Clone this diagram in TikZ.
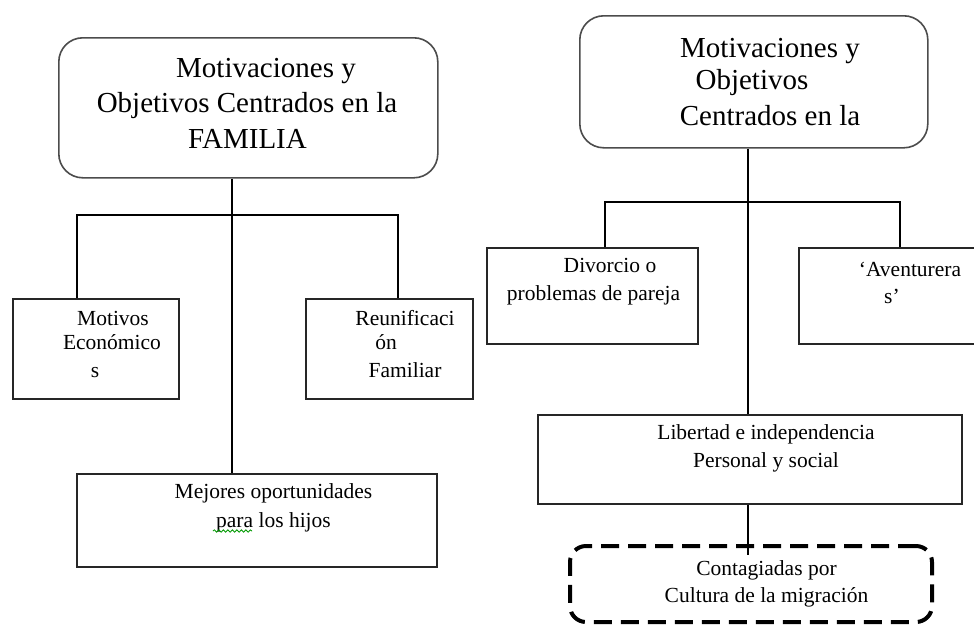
\documentclass[tikz,border=0pt]{standalone}
\usepackage{fontspec}
\setmainfont{Liberation Serif}
\usetikzlibrary{decorations.pathmorphing}
\begin{document}
\begin{tikzpicture}[x=1pt,y=-1pt,
  box/.style={draw=black!85, line width=1.6pt, rectangle, inner sep=0pt, anchor=north west},
  topbox/.style={draw=black!70, line width=1.6pt, rectangle, rounded corners=24pt, inner sep=0pt, anchor=north west},
  dashbox/.style={draw=black, line width=4pt, dash pattern=on 18pt off 9pt, rectangle, rounded corners=16pt, inner sep=0pt, anchor=north west},
  conn/.style={draw=black, line width=1.6pt},
  big/.style={anchor=base, inner sep=0pt, font=\fontsize{29}{35}\selectfont},
  small/.style={anchor=base, inner sep=0pt, font=\fontsize{21.5}{26}\selectfont}]
\useasboundingbox (0,0) rectangle (974,627);
\fill[white] (0,0) rectangle (974,627);

% boxes
\node[topbox, minimum width=379pt, minimum height=140pt] (fam) at (58,37) {};
\node[topbox, minimum width=348pt, minimum height=132pt] (per) at (579,15) {};
\node[box, minimum width=166pt, minimum height=100pt] (mot) at (12,298) {};
\node[box, minimum width=167pt, minimum height=100pt] (reu) at (305,298) {};
\node[box, minimum width=360pt, minimum height=93pt] (mej) at (76,473) {};
\node[box, minimum width=211pt, minimum height=96pt] (div) at (486,247) {};
\node[box, minimum width=200pt, minimum height=96pt] (ave) at (798,247) {};
\node[box, minimum width=424pt, minimum height=89pt] (lib) at (537,414) {};
\node[dashbox, minimum width=362pt, minimum height=76pt] (con) at (568,544) {};

% texts
\node[big] (t1) at (266,77) {Motivaciones y};
\node[big] (t2) at (247,112) {Objetivos Centrados en la};
\node[big] (t3) at (247.5,148) {FAMILIA};
\node[big] (t4) at (770,57) {Motivaciones y};
\node[big] (t5) at (752,89) {Objetivos};
\node[big] (t6) at (770,125) {Centrados en la};
\node[small] (t7) at (113,325) {Motivos};
\node[small] (t8) at (112,349) {Económico};
\node[small] (t9) at (95,377) {s};
\node[small] (t10) at (405,325) {Reunificaci};
\node[small] (t11) at (386,349) {ón};
\node[small] (t12) at (405,377) {Familiar};
\node[small] (t13) at (610,272) {Divorcio o};
\node[small] (t14) at (593.5,300) {problemas de pareja};
\node[small] (t15) at (910,276) {‘Aventurera};
\node[small] (t16) at (892,303) {s’};
\node[small] (t17) at (273.5,498) {Mejores oportunidades};
\node[small] (t18) at (273.5,527) {para los hijos};
\node[small] (t19) at (766,439) {Libertad e independencia};
\node[small] (t20) at (766,467) {Personal y social};
\node[small] (t21) at (766.5,575) {Contagiadas por};
\node[small] (t22) at (766.5,602) {Cultura de la migración};

% spell-check mark
\draw[green!60!black, line width=0.8pt, decorate, decoration={snake, amplitude=1.2pt, segment length=4.5pt}] (213,531) -- (252,531);

% connectors left
\coordinate (lx) at (232,0);
\coordinate (lb1) at (77,215);
\coordinate (lb2) at (398,215);
\draw[conn] (fam.south -| lx) -- (mej.north -| lx);
\draw[conn] (lb1 |- mot.north) -- (lb1) -- (lb2) -- (lb2 |- reu.north);

% connectors right
\coordinate (rx) at (748,0);
\coordinate (rb1) at (605,202);
\coordinate (rb2) at (900,202);
\coordinate (rend) at (748,555);
\draw[conn] (per.south -| rx) -- (lib.north -| rx);
\draw[conn] (rb1 |- div.north) -- (rb1) -- (rb2) -- (rb2 |- ave.north);
\draw[conn] (lib.south -| rx) -- (rend);
\end{tikzpicture}
\end{document}
